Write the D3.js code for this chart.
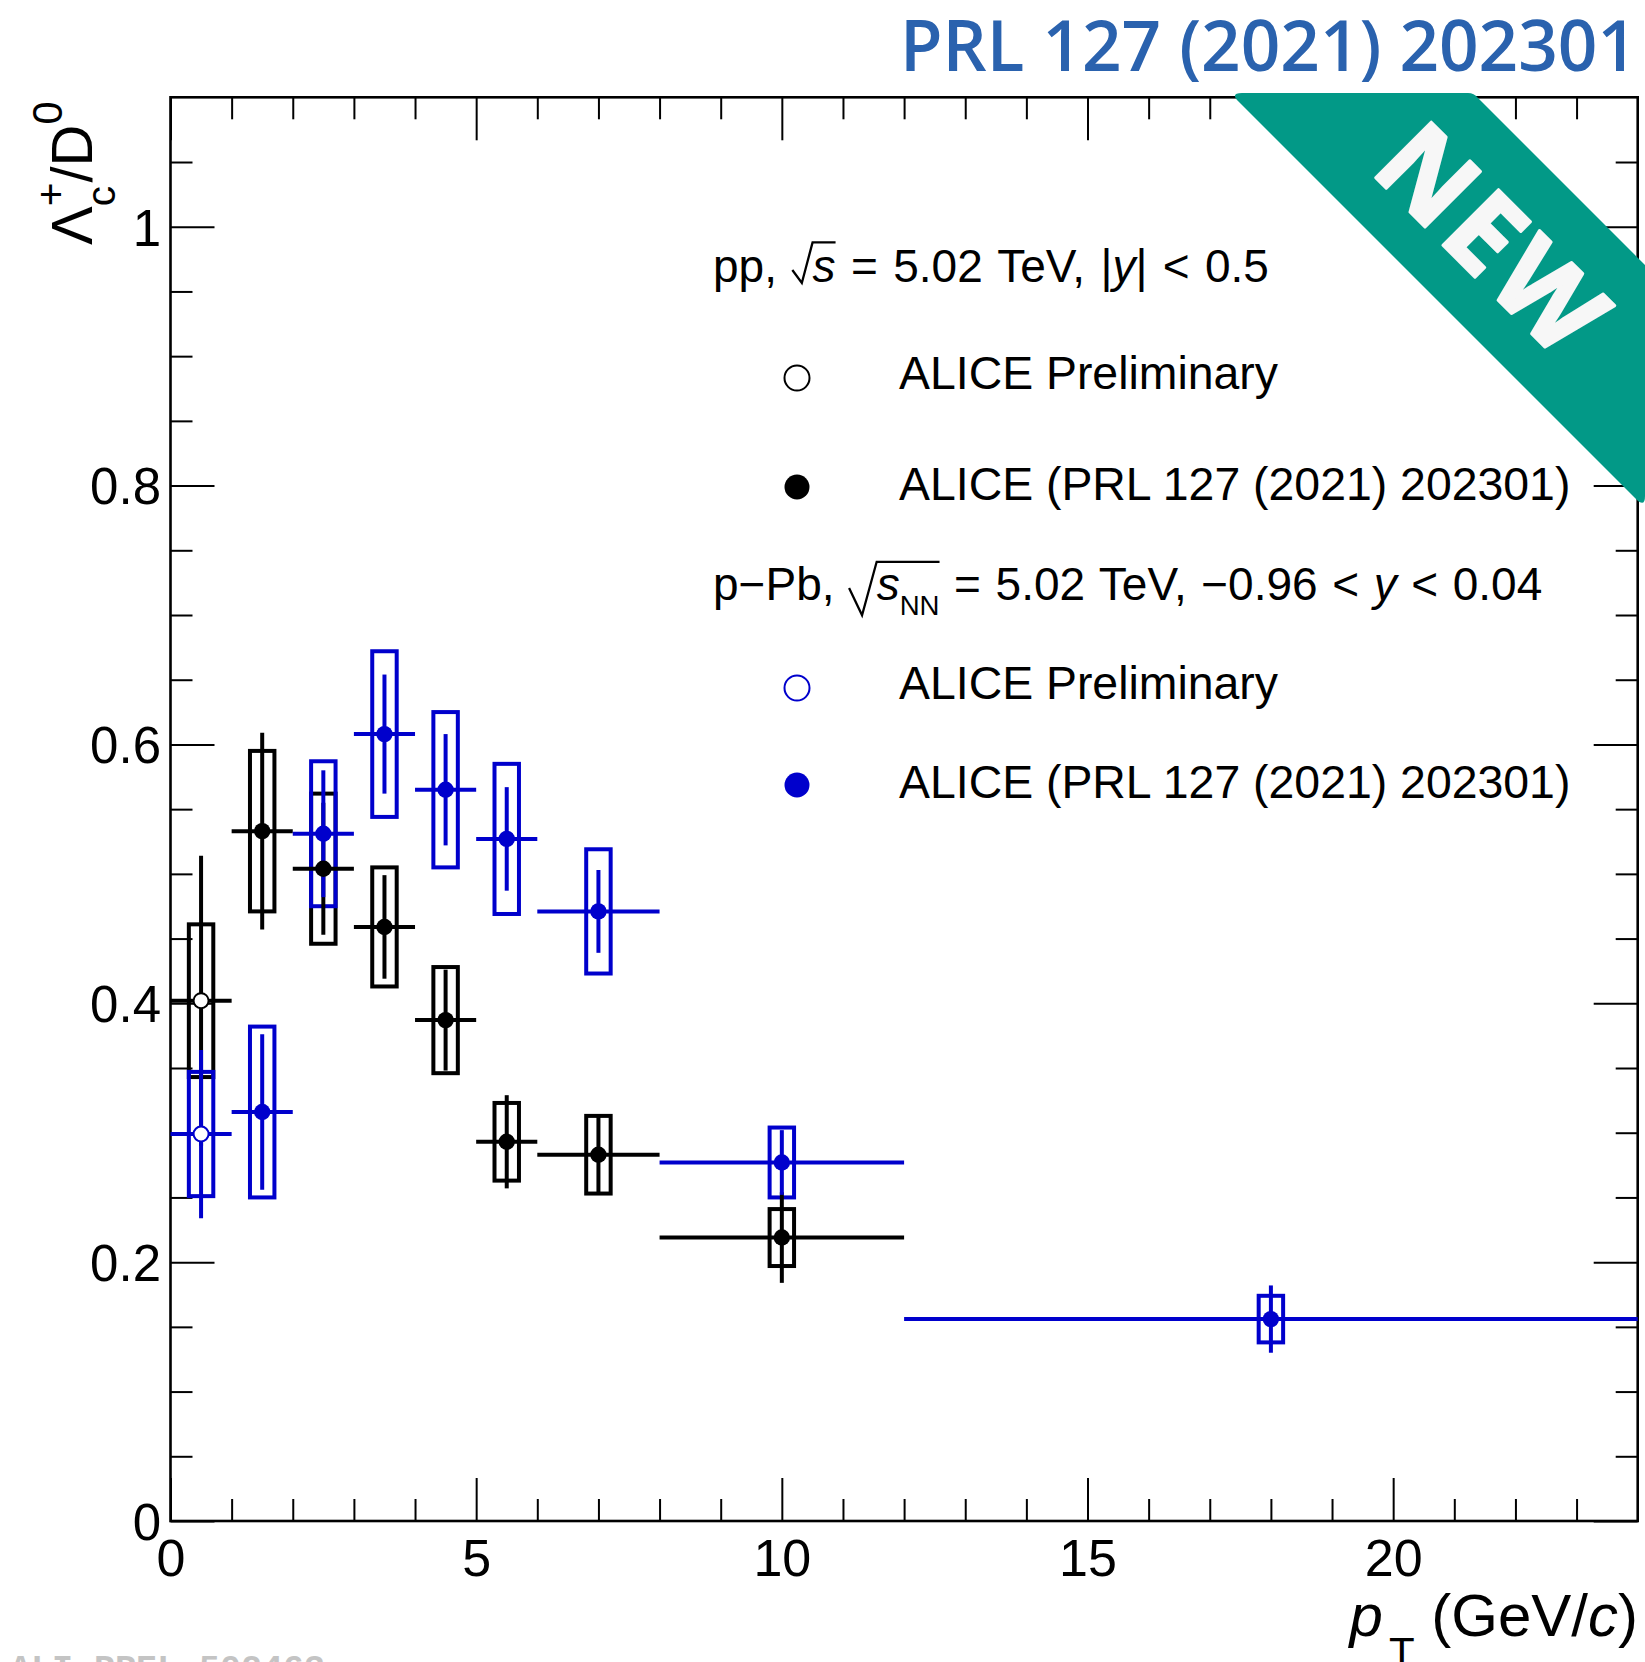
<!DOCTYPE html>
<html>
<head>
<meta charset="utf-8">
<script src="https://cdn.jsdelivr.net/npm/d3@7"></script>
<style>
  html, body { margin: 0; padding: 0; background: #fff; }
  svg { display: block; }
</style>
</head>
<body>
<script>
// ---- data -------------------------------------------------------------
// pT bins (GeV/c): lower edge, upper edge, centre
const binLow    = [0, 1, 2, 3, 4, 5, 6, 8, 12];
const binHigh   = [1, 2, 3, 4, 5, 6, 8, 12, 24];
const binCentre = [0.5, 1.5, 2.5, 3.5, 4.5, 5.5, 7, 10, 18];

// Lambda_c+/D0 ratio, pp 5.02 TeV, preliminary (bin index, value, stat, syst)
const ppPrelim = [
  { bin: 0, y: 0.402, stat: 0.112, sys: 0.059 }
];
// pp 5.02 TeV, published
const ppPublished = [
  { bin: 1, y: 0.533, stat: 0.076, sys: 0.062 },
  { bin: 2, y: 0.504, stat: 0.051, sys: 0.058 },
  { bin: 3, y: 0.459, stat: 0.040, sys: 0.046 },
  { bin: 4, y: 0.387, stat: 0.039, sys: 0.041 },
  { bin: 5, y: 0.293, stat: 0.036, sys: 0.030 },
  { bin: 6, y: 0.283, stat: 0.031, sys: 0.030 },
  { bin: 7, y: 0.219, stat: 0.035, sys: 0.022 }
];
// p-Pb 5.02 TeV, preliminary
const pPbPrelim = [
  { bin: 0, y: 0.299, stat: 0.065, sys: 0.048 }
];
// p-Pb 5.02 TeV, published
const pPbPublished = [
  { bin: 1, y: 0.316, stat: 0.060, sys: 0.066 },
  { bin: 2, y: 0.531, stat: 0.049, sys: 0.056 },
  { bin: 3, y: 0.608, stat: 0.046, sys: 0.064 },
  { bin: 4, y: 0.565, stat: 0.043, sys: 0.060 },
  { bin: 5, y: 0.527, stat: 0.040, sys: 0.058 },
  { bin: 6, y: 0.471, stat: 0.032, sys: 0.048 },
  { bin: 7, y: 0.277, stat: 0.025, sys: 0.027 },
  { bin: 8, y: 0.156, stat: 0.026, sys: 0.018 }
];

// axes
const xDomain = [0, 24];
const yDomain = [0, 1.1];
const xMajor = [0, 5, 10, 15, 20];
const xTickLabels = ["0", "5", "10", "15", "20"];
const yMajor = [0, 0.2, 0.4, 0.6, 0.8, 1.0];
const yTickLabels = ["0", "0.2", "0.4", "0.6", "0.8", "1"];

const legendLabels = ["ALICE Preliminary", "ALICE (PRL 127 (2021) 202301)",
                      "ALICE Preliminary", "ALICE (PRL 127 (2021) 202301)"];
const headline = "PRL 127 (2021) 202301";
const plotId = "ALI-PREL-502463";

// ---- layout -----------------------------------------------------------
const W = 1645, H = 1662;
const FONT = "'Liberation Sans', Arial, Helvetica, sans-serif";
const BLACK = "#000000", BLUE = "#0000cc";
const plot = { left: 170.5, right: 1637.7, top: 97.3, bottom: 1521 };
const boxHalf = 0.2;      // half width of the systematic boxes, in GeV/c

const svg = d3.select("body").append("svg")
  .attr("width", W).attr("height", H)
  .attr("viewBox", `0 0 ${W} ${H}`)
  .attr("font-family", FONT);

const x = d3.scaleLinear().domain(xDomain).range([plot.left, plot.right]);
const y = d3.scaleLinear().domain(yDomain).range([plot.bottom, plot.top]);

const xMinor = d3.range(1, 24).filter(v => v % 5 !== 0);
const yMinor = d3.range(1, 22).map(i => +(i * 0.05).toFixed(2))
  .filter(v => Math.abs(v * 5 - Math.round(v * 5)) > 1e-6);

// ---- rich text helper (italics, sub/superscripts, square root) --------
function richText(parent, parts, size, opts = {}) {
  const g = parent.append("g");
  const color = opts.color || "#000";
  const wordGap = opts.wordSpacing || 0;
  let cx = 0;
  let root = null;
  const roots = [];
  for (const p of parts) {
    if (p.rootOpen) {
      root = { a: cx, depth: p.depth, top: p.top, w: p.width };
      cx += p.width * size;
      continue;
    }
    if (p.rootClose) {
      root.b = cx;
      roots.push(root);
      continue;
    }
    const group = p.stack || [p];
    const x0 = cx + (p.dx || 0) * size;
    let adv = 0;
    for (const q of group) {
      const t = g.append("text")
        .attr("x", x0)
        .attr("y", (q.shift || 0) * size)
        .attr("font-size", size * (q.scale || 1))
        .attr("font-style", q.it ? "italic" : null)
        .attr("word-spacing", wordGap || null)
        .attr("fill", color)
        .style("white-space", "pre")
        .text(q.t);
      const spaces = (q.t.match(/ /g) || []).length;
      adv = Math.max(adv, t.node().getComputedTextLength() +
        (wordGap && !t.attr("word-spacing-applied") ? 0 : 0) * spaces);
    }
    cx = x0 + adv;
  }
  roots.forEach(r => {
    const s = size;
    const d = `M${r.a},${-0.26 * s} L${r.a + r.w * 0.47 * s},${r.depth * s}` +
              ` L${r.a + r.w * s},${-r.top * s} L${r.b},${-r.top * s}`;
    g.append("path").attr("d", d).attr("fill", "none")
      .attr("stroke", color).attr("stroke-width", s * 0.05)
      .attr("stroke-linejoin", "miter");
  });
  return { g, width: cx };
}

// ---- axes -------------------------------------------------------------
function styleAxis(g, fontSize) {
  g.select(".domain").remove();
  g.selectAll(".tick line").attr("stroke", "#000").attr("stroke-width", 2);
  g.attr("font-family", FONT).attr("font-size", fontSize);
  g.selectAll(".tick text").attr("fill", "#000");
  return g;
}

// bottom
styleAxis(svg.append("g").attr("transform", `translate(0,${plot.bottom})`)
  .call(d3.axisBottom(x).tickValues(xMajor).tickSizeInner(-43).tickSizeOuter(0)
    .tickPadding(18).tickFormat((d, i) => xTickLabels[i])), 52);
styleAxis(svg.append("g").attr("transform", `translate(0,${plot.bottom})`)
  .call(d3.axisBottom(x).tickValues(xMinor).tickSizeInner(-22).tickSizeOuter(0)
    .tickFormat("")), 10);
// top
styleAxis(svg.append("g").attr("transform", `translate(0,${plot.top})`)
  .call(d3.axisTop(x).tickValues(xMajor).tickSizeInner(-43).tickSizeOuter(0)
    .tickFormat("")), 10);
styleAxis(svg.append("g").attr("transform", `translate(0,${plot.top})`)
  .call(d3.axisTop(x).tickValues(xMinor).tickSizeInner(-22).tickSizeOuter(0)
    .tickFormat("")), 10);
// left
const yAxisG = styleAxis(svg.append("g").attr("transform", `translate(${plot.left},0)`)
  .call(d3.axisLeft(y).tickValues(yMajor).tickSizeInner(-44).tickSizeOuter(0)
    .tickPadding(9.5).tickFormat((d, i) => yTickLabels[i])), 51);
yAxisG.selectAll(".tick text").attr("dy", "0.36em");
styleAxis(svg.append("g").attr("transform", `translate(${plot.left},0)`)
  .call(d3.axisLeft(y).tickValues(yMinor).tickSizeInner(-22).tickSizeOuter(0)
    .tickFormat("")), 10);
// right
styleAxis(svg.append("g").attr("transform", `translate(${plot.right},0)`)
  .call(d3.axisRight(y).tickValues(yMajor).tickSizeInner(-44).tickSizeOuter(0)
    .tickFormat("")), 10);
styleAxis(svg.append("g").attr("transform", `translate(${plot.right},0)`)
  .call(d3.axisRight(y).tickValues(yMinor).tickSizeInner(-22).tickSizeOuter(0)
    .tickFormat("")), 10);

// frame
svg.append("rect")
  .attr("x", plot.left).attr("y", plot.top)
  .attr("width", plot.right - plot.left).attr("height", plot.bottom - plot.top)
  .attr("fill", "none").attr("stroke", "#000").attr("stroke-width", 2.6);

// axis titles
const yTitle = svg.append("g").attr("transform", "translate(92,245) rotate(-90)");
richText(yTitle, [
  { t: "\u039B" },
  { stack: [ { t: "c", scale: 0.7, shift: 0.4 }, { t: "+", scale: 0.7, shift: -0.47 } ] },
  { t: "/D" },
  { t: "0", scale: 0.72, shift: -0.52 }
], 58);

const xTitleHolder = svg.append("g");
const xTitle = richText(xTitleHolder, [
  { t: "p", it: true },
  { t: "T", scale: 0.7, shift: 0.52, dx: 0.1 },
  { t: " (GeV/" },
  { t: "c", it: true },
  { t: ")" }
], 60);
xTitleHolder.attr("transform", `translate(${1638 - xTitle.width},1636)`);

// ---- data layers ------------------------------------------------------
const layers = {
  boxes: svg.append("g"),
  bars: svg.append("g"),
  marks: svg.append("g")
};

function drawBoxes(data, color) {
  layers.boxes.append("g").selectAll("rect").data(data).join("rect")
    .attr("x", d => x(binCentre[d.bin] - boxHalf))
    .attr("width", d => x(binCentre[d.bin] + boxHalf) - x(binCentre[d.bin] - boxHalf))
    .attr("y", d => y(d.y + d.sys))
    .attr("height", d => y(d.y - d.sys) - y(d.y + d.sys))
    .attr("fill", "none").attr("stroke", color).attr("stroke-width", 4);
}
function drawBars(data, color) {
  const g = layers.bars.append("g").attr("stroke", color).attr("stroke-width", 4);
  g.selectAll("line.h").data(data).join("line").attr("class", "h")
    .attr("x1", d => x(binLow[d.bin])).attr("x2", d => x(binHigh[d.bin]))
    .attr("y1", d => y(d.y)).attr("y2", d => y(d.y));
  g.selectAll("line.v").data(data).join("line").attr("class", "v")
    .attr("x1", d => x(binCentre[d.bin])).attr("x2", d => x(binCentre[d.bin]))
    .attr("y1", d => y(d.y - d.stat)).attr("y2", d => y(d.y + d.stat));
}
function drawMarks(data, color, open) {
  layers.marks.append("g").selectAll("circle").data(data).join("circle")
    .attr("cx", d => x(binCentre[d.bin])).attr("cy", d => y(d.y))
    .attr("r", open ? 7.5 : 8.2)
    .attr("fill", open ? "#fff" : color)
    .attr("stroke", open ? color : "none").attr("stroke-width", 2);
}

drawBoxes(ppPrelim, BLACK);
drawBoxes(ppPublished, BLACK);
drawBoxes(pPbPrelim, BLUE);
drawBoxes(pPbPublished, BLUE);
drawBars(ppPrelim, BLACK);
drawBars(ppPublished, BLACK);
drawBars(pPbPrelim, BLUE);
drawBars(pPbPublished, BLUE);
drawMarks(ppPrelim, BLACK, true);
drawMarks(ppPublished, BLACK, false);
drawMarks(pPbPrelim, BLUE, true);
drawMarks(pPbPublished, BLUE, false);

// ---- legend -----------------------------------------------------------
const leg = svg.append("g");
const h1 = leg.append("g").attr("transform", "translate(713,282)");
richText(h1, [
  { t: "pp, " },
  { rootOpen: true, width: 0.44, depth: 0.02, top: 0.86 },
  { t: "s", it: true },
  { rootClose: true },
  { t: " = 5.02 TeV, |" },
  { t: "y", it: true },
  { t: "| < 0.5" }
], 46, { wordSpacing: 2.6 });
const h2 = leg.append("g").attr("transform", "translate(713,600)");
richText(h2, [
  { t: "p\u2212Pb, " },
  { rootOpen: true, width: 0.6, depth: 0.33, top: 0.83 },
  { t: "s", it: true },
  { t: "NN", scale: 0.6, shift: 0.33 },
  { rootClose: true },
  { t: " = 5.02 TeV, \u22120.96 < " },
  { t: "y", it: true },
  { t: " < 0.04" }
], 46, { wordSpacing: 1.8 });

const legendRows = [
  { mY: 378, tY: 389, color: BLACK, open: true },
  { mY: 487, tY: 500, color: BLACK, open: false },
  { mY: 688, tY: 699, color: BLUE, open: true },
  { mY: 785, tY: 798, color: BLUE, open: false }
];
legendRows.forEach((r, i) => {
  leg.append("circle").attr("cx", 797).attr("cy", r.mY).attr("r", 12.5)
    .attr("fill", r.open ? "#fff" : r.color)
    .attr("stroke", r.open ? r.color : "none").attr("stroke-width", 2);
  leg.append("text").attr("x", 899).attr("y", r.tY)
    .attr("font-size", 46.4).attr("fill", "#000").text(legendLabels[i]);
});

// ---- headline and plot id ----------------------------------------------
svg.append("text")
  .attr("x", 1637).attr("y", 71)
  .attr("text-anchor", "end")
  .attr("font-family", "'Open Sans', 'Noto Sans', sans-serif")
  .attr("font-weight", 600)
  .attr("font-size", 71)
  .attr("fill", "#2a62ae")
  .attr("textLength", 737).attr("lengthAdjust", "spacingAndGlyphs")
  .text(headline);

svg.append("text")
  .attr("x", 10).attr("y", 1679)
  .attr("font-family", "'Liberation Mono', 'DejaVu Sans Mono', monospace")
  .attr("font-weight", 700)
  .attr("font-size", 35)
  .attr("fill", "#c4c4c4")
  .text(plotId);

// ---- corner ribbon ------------------------------------------------------
const ribbon = svg.append("g");
ribbon.append("path")
  .attr("d", "M1242,93 L1468,93 Q1474,93 1478,98 L1645,265 L1645,496 " +
             "Q1645,508 1636,499 L1237,100 Q1231,93 1242,93 Z")
  .attr("fill", "#029987");
ribbon.append("text")
  .attr("transform", "translate(1494,240) rotate(45)")
  .attr("text-anchor", "middle")
  .attr("dy", "0.36em")
  .attr("font-family", "'Open Sans', 'Noto Sans', sans-serif")
  .attr("font-weight", 700)
  .attr("font-size", 110)
  .attr("letter-spacing", 6)
  .attr("fill", "#f7f7f7")
  .attr("stroke", "#f7f7f7").attr("stroke-width", 3).attr("stroke-linejoin", "round")
  .text("NEW");
</script>
</body>
</html>
